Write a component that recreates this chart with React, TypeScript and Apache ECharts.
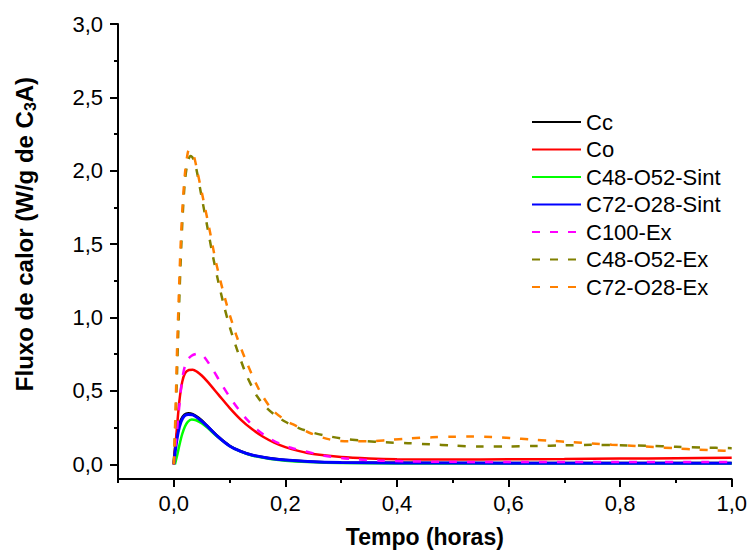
import React, { useEffect, useRef } from "react";
import * as echarts from "echarts";

const seriesNames = ["Cc", "Co", "C48-O52-Sint", "C72-O28-Sint", "C100-Ex", "C48-O52-Ex", "C72-O28-Ex"];

const cc: [number, number][] = [[0,0],[0.003,0.14],[0.008,0.25],[0.013,0.305],[0.019,0.338],[0.026,0.348],[0.034,0.342],[0.045,0.315],[0.06,0.262],[0.08,0.188],[0.1,0.127],[0.12,0.089],[0.14,0.064],[0.17,0.043],[0.2,0.03],[0.24,0.02],[0.3,0.013],[0.4,0.01],[0.6,0.009],[0.8,0.009],[1.0,0.009]];
const co: [number, number][] = [[0,0],[0.005,0.22],[0.01,0.43],[0.015,0.56],[0.02,0.62],[0.027,0.643],[0.034,0.645],[0.042,0.63],[0.05,0.605],[0.06,0.565],[0.08,0.475],[0.1,0.385],[0.12,0.305],[0.14,0.24],[0.16,0.188],[0.18,0.148],[0.2,0.117],[0.225,0.09],[0.25,0.07],[0.3,0.05],[0.35,0.04],[0.4,0.035],[0.5,0.033],[0.6,0.034],[0.7,0.036],[0.8,0.039],[0.9,0.042],[1.0,0.045]];
const c48Sint: [number, number][] = [[0.002,0],[0.006,0.06],[0.01,0.13],[0.015,0.205],[0.02,0.258],[0.025,0.29],[0.032,0.305],[0.04,0.3],[0.05,0.28],[0.06,0.25],[0.08,0.182],[0.1,0.125],[0.12,0.086],[0.14,0.06],[0.17,0.038],[0.2,0.025],[0.24,0.016],[0.3,0.009],[0.4,0.006],[0.6,0.005],[1.0,0.005]];
const c72Sint: [number, number][] = [[0,0],[0.003,0.1],[0.008,0.22],[0.013,0.29],[0.019,0.33],[0.026,0.34],[0.034,0.337],[0.045,0.31],[0.06,0.26],[0.08,0.185],[0.1,0.125],[0.12,0.088],[0.14,0.063],[0.17,0.042],[0.2,0.029],[0.24,0.019],[0.3,0.012],[0.4,0.009],[0.6,0.008],[0.8,0.008],[1.0,0.008]];
const c100Ex: [number, number][] = [[0,0],[0.005,0.2],[0.01,0.4],[0.015,0.58],[0.02,0.67],[0.025,0.715],[0.032,0.74],[0.04,0.752],[0.047,0.755],[0.055,0.73],[0.07,0.645],[0.085,0.55],[0.1,0.46],[0.115,0.38],[0.13,0.31],[0.15,0.235],[0.17,0.18],[0.19,0.14],[0.21,0.113],[0.237,0.087],[0.27,0.058],[0.3,0.043],[0.33,0.033],[0.37,0.025],[0.42,0.02],[0.5,0.017],[0.6,0.016],[0.8,0.015],[1.0,0.015]];
const c48Ex: [number, number][] = [[0,0],[0.004,0.4],[0.008,0.9],[0.012,1.35],[0.016,1.7],[0.02,1.93],[0.025,2.06],[0.03,2.1],[0.035,2.08],[0.04,2.02],[0.05,1.82],[0.06,1.62],[0.07,1.42],[0.08,1.24],[0.09,1.08],[0.1,0.94],[0.11,0.82],[0.12,0.71],[0.13,0.61],[0.14,0.53],[0.15,0.46],[0.165,0.39],[0.18,0.34],[0.2,0.29],[0.225,0.245],[0.25,0.215],[0.27,0.197],[0.3,0.177],[0.34,0.16],[0.38,0.15],[0.42,0.144],[0.46,0.136],[0.5,0.128],[0.55,0.121],[0.6,0.122],[0.65,0.125],[0.7,0.129],[0.75,0.133],[0.8,0.13],[0.85,0.126],[0.9,0.12],[0.95,0.114],[1.0,0.11]];
const c72Ex: [number, number][] = [[0,0],[0.003,0.35],[0.006,0.8],[0.009,1.15],[0.012,1.47],[0.016,1.78],[0.02,1.98],[0.024,2.1],[0.027,2.14],[0.031,2.13],[0.036,2.1],[0.042,2.0],[0.052,1.82],[0.064,1.6],[0.076,1.37],[0.094,1.1],[0.112,0.88],[0.13,0.7],[0.154,0.5],[0.177,0.37],[0.2,0.3],[0.22,0.26],[0.243,0.215],[0.279,0.17],[0.314,0.157],[0.35,0.157],[0.386,0.166],[0.421,0.176],[0.463,0.184],[0.5,0.188],[0.535,0.189],[0.57,0.186],[0.606,0.178],[0.64,0.169],[0.678,0.16],[0.713,0.151],[0.749,0.142],[0.785,0.134],[0.82,0.127],[0.86,0.118],[0.9,0.109],[0.94,0.1],[0.975,0.094],[1.0,0.09]];

const xMajorTicks = [0, 0.2, 0.4, 0.6, 0.8, 1.0];
const xMinorTicks = [-0.1, 0.1, 0.3, 0.5, 0.7, 0.9];
const yMajorTicks = [0, 0.5, 1.0, 1.5, 2.0, 2.5, 3.0];
const yMinorTicks = [0.25, 0.75, 1.25, 1.75, 2.25, 2.75];

const xTitle = "Tempo (horas)";
const yTitleRich = "{a|Fluxo de calor (W/g de C}{s|3}{a|A)}";

const FONT = "'Liberation Sans', Arial, sans-serif";

const fmt = (v: number) => v.toFixed(1).replace(".", ",");

export default function App() {
  const ref = useRef<HTMLDivElement>(null);
  useEffect(() => {
    if (!ref.current) return;
    const chart = echarts.init(ref.current, undefined, { renderer: "svg" });
    const dataSets = [cc, co, c48Sint, c72Sint, c100Ex, c48Ex, c72Ex];
    const colors = ["#000000", "#ff0000", "#00ff00", "#0000ff", "#ff00ff", "#808000", "#ff8000"];
    const widths = [2.5, 2.5, 2.5, 3, 2.5, 2.5, 2.5];
    const dashed = [false, false, false, false, true, true, true];
    const axisLine = { show: true, onZero: false, lineStyle: { color: "#000", width: 2 } };
    chart.setOption({
      animation: false,
      textStyle: { fontFamily: FONT },
      grid: { left: 118, right: 17, top: 24, bottom: 80, containLabel: false },
      legend: {
        orient: "vertical",
        left: 526,
        top: 105,
        itemWidth: 49,
        itemHeight: 14,
        itemGap: 3.5,
        itemStyle: { opacity: 0 },
        textStyle: { fontSize: 22, color: "#000", fontFamily: FONT, lineHeight: 24 },
        data: seriesNames,
      },
      xAxis: [
        {
          type: "value",
          min: -0.1,
          max: 1.0,
          position: "bottom",
          axisLine,
          splitLine: { show: false },
          axisTick: { show: true, customValues: xMajorTicks, length: 8, lineStyle: { color: "#000", width: 2 } },
          axisLabel: { show: true, customValues: xMajorTicks, formatter: fmt, fontSize: 22, color: "#000", margin: 13, fontFamily: FONT },
          name: xTitle,
          nameLocation: "middle",
          nameGap: 46,
          nameTextStyle: { fontSize: 23, fontWeight: "bold", color: "#000", fontFamily: FONT },
        },
        {
          type: "value",
          min: -0.1,
          max: 1.0,
          position: "bottom",
          axisLine: { show: false, onZero: false },
          splitLine: { show: false },
          axisTick: { show: true, customValues: xMinorTicks, length: 4, lineStyle: { color: "#000", width: 2 } },
          axisLabel: { show: false },
        },
      ],
      yAxis: [
        {
          type: "value",
          min: -0.1,
          max: 3.0,
          position: "left",
          axisLine,
          splitLine: { show: false },
          axisTick: { show: true, customValues: yMajorTicks, length: 8, lineStyle: { color: "#000", width: 2 } },
          axisLabel: { show: true, customValues: yMajorTicks, formatter: fmt, fontSize: 22, color: "#000", margin: 15, fontFamily: FONT },
        },
        {
          type: "value",
          min: -0.1,
          max: 3.0,
          position: "left",
          axisLine: { show: false, onZero: false },
          splitLine: { show: false },
          axisTick: { show: true, customValues: yMinorTicks, length: 4, lineStyle: { color: "#000", width: 2 } },
          axisLabel: { show: false },
        },
      ],
      graphic: [
        {
          type: "text",
          x: 24,
          y: 234,
          rotation: Math.PI / 2,
          style: {
            text: yTitleRich,
            align: "center",
            verticalAlign: "middle",
            fill: "#000",
            rich: {
              a: { fontSize: 24, fontWeight: "bold", fontFamily: FONT, fill: "#000", lineHeight: 26 },
              s: { fontSize: 16, fontWeight: "bold", fontFamily: FONT, fill: "#000", verticalAlign: "top", padding: [12, 0, 0, 0] },
            },
          },
        },
      ],
      series: dataSets.map((d, i) => ({
        name: seriesNames[i],
        type: "line",
        data: d,
        xAxisIndex: 0,
        yAxisIndex: 0,
        symbol: "none",
        showSymbol: false,
        smooth: 0.3,
        lineStyle: { color: colors[i], width: widths[i], type: dashed[i] ? [8, 10] : "solid" },
        itemStyle: { color: colors[i] },
      })),
    });
    return () => chart.dispose();
  }, []);
  return <div ref={ref} style={{ position: "absolute", left: 0, top: 0, width: 750, height: 559 }} />;
}
